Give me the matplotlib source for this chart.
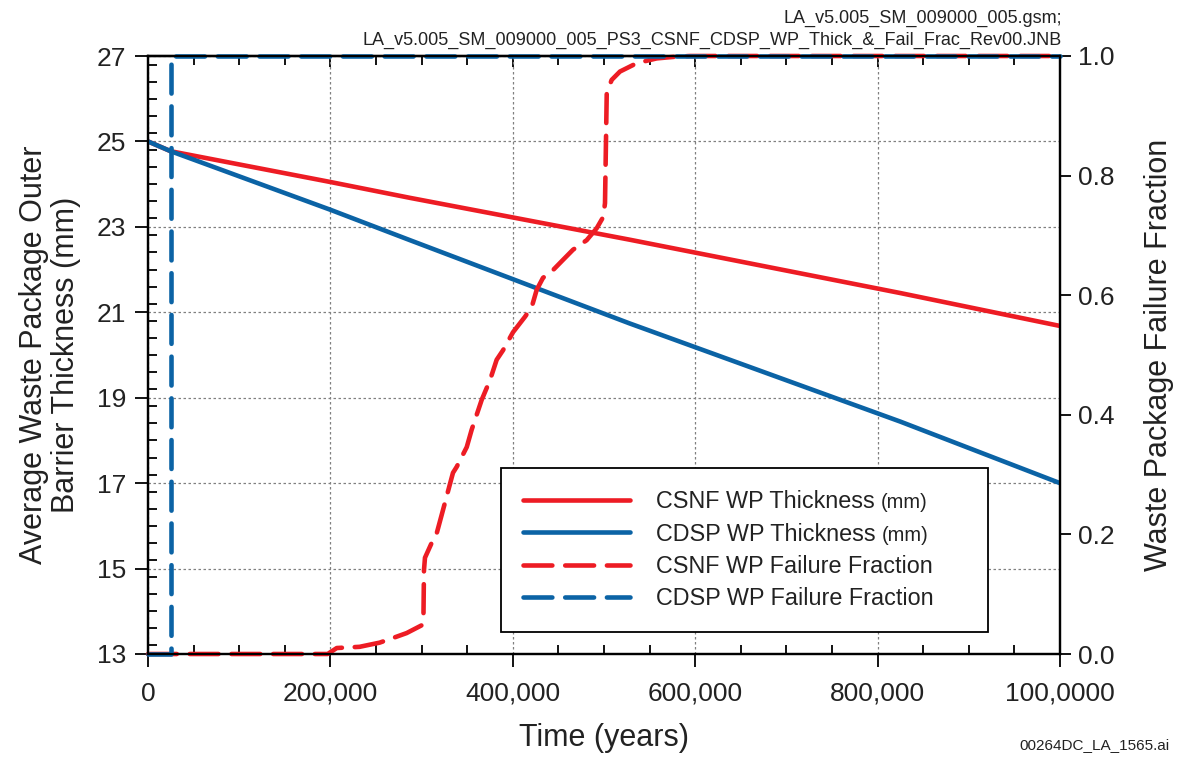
import matplotlib
matplotlib.use('Agg')
import matplotlib.pyplot as plt
from matplotlib.ticker import MultipleLocator, FixedLocator, FormatStrFormatter

plt.rcParams['font.family'] = ['Liberation Sans', 'DejaVu Sans']

# thickness curves (mm)
thick_years = [0, 25000, 200000, 287000, 528000, 825000, 1000000]
csnf_thick = [25.0, 24.77, 24.05, 23.68, 22.70, 21.45, 20.68]
cdsp_thick = [25.0, 24.77, 23.4, 22.69, 20.74, 18.44, 17.0]

# failure fractions
csnf_fail_years = [0, 197000, 207000, 232000, 254000, 269000, 283600, 300100, 302000,
                   302600, 303700, 311100, 316600, 323500, 334400, 338500, 349500,
                   354900, 365900, 375000, 382300, 389300, 400200, 413400, 420700,
                   426200, 433100, 444100, 455000, 466000, 481000, 492000, 499200,
                   501100, 503000, 508400, 517500, 535900, 557800, 579700, 594300,
                   1000000]
csnf_fail = [0, 0, 0.010, 0.012, 0.019, 0.027, 0.035, 0.048, 0.057,
             0.14, 0.161, 0.186, 0.202, 0.241, 0.303, 0.313, 0.346,
             0.375, 0.425, 0.458, 0.492, 0.508, 0.538, 0.564, 0.580,
             0.609, 0.629, 0.642, 0.659, 0.676, 0.692, 0.712, 0.731,
             0.754, 0.938, 0.960, 0.974, 0.988, 0.996, 0.999, 1.0,
             1.0]
cdsp_fail_years = [0, 25000, 25000, 1000000]
cdsp_fail = [0, 0, 1.0, 1.0]

x_ticks = [0, 200000, 400000, 600000, 800000, 1000000]
x_ticklabels = ['0', '200,000', '400,000', '600,000', '800,000', '100,0000']

red = '#ED1C24'
blue = '#0B63A5'
LW = 3.3
DASH = (6.3, 2.8)

fig = plt.figure(figsize=(11.79, 7.57), dpi=100)
ax1 = fig.add_axes([148 / 1179, 103 / 757, 912 / 1179, 598 / 757])
ax2 = ax1.twinx()

ax1.plot(thick_years, csnf_thick, color=red, lw=LW, solid_capstyle='round',
         label='CSNF WP Thickness', zorder=3)
ax1.plot(thick_years, cdsp_thick, color=blue, lw=LW, solid_capstyle='round',
         label='CDSP WP Thickness', zorder=3)

l3, = ax2.plot(csnf_fail_years, csnf_fail, color=red, lw=LW, dashes=DASH,
               dash_capstyle='round', label='CSNF WP Failure Fraction', clip_on=False)
l4, = ax2.plot(cdsp_fail_years, cdsp_fail, color=blue, lw=LW, dashes=DASH,
               dash_capstyle='round', label='CDSP WP Failure Fraction', clip_on=False)

ax1.set_xlim(0, 1000000)
ax1.set_ylim(13, 27)
ax2.set_ylim(0, 1)

ax1.set_xticks(x_ticks)
ax1.set_xticklabels(x_ticklabels)
ax1.xaxis.set_minor_locator(MultipleLocator(50000))
ax1.yaxis.set_major_locator(FixedLocator([13, 15, 17, 19, 21, 23, 25, 27]))
ax1.yaxis.set_minor_locator(MultipleLocator(0.4))
ax2.yaxis.set_major_locator(MultipleLocator(0.2))
ax2.yaxis.set_major_formatter(FormatStrFormatter('%.1f'))

ax1.grid(True, which='major', color='#808080', lw=0.9, ls=(0, (2, 2)))
ax1.set_axisbelow(True)

ax1.tick_params(axis='x', which='major', direction='out', length=9, width=1.3,
                labelsize=19, pad=11, top=False, colors='#222222')
ax1.tick_params(axis='x', which='minor', direction='in', length=6.5, width=1.3, top=False)
ax1.tick_params(axis='y', which='major', direction='out', length=9.5, width=1.3,
                labelsize=19, pad=6, right=False, colors='#222222')
ax1.tick_params(axis='y', which='minor', direction='in', length=6.5, width=1.3, right=False)
ax2.tick_params(axis='y', which='major', direction='out', length=8, width=1.3,
                labelsize=19, pad=5, colors='#222222')
for ax in (ax1, ax2):
    ax.tick_params(which='both', color='black')

top = ax1.secondary_xaxis('top')
top.set_xticks(x_ticks)
top.xaxis.set_minor_locator(MultipleLocator(50000))
top.tick_params(which='major', direction='in', length=8, width=1.3, labeltop=False)
top.tick_params(which='minor', direction='in', length=6.5, width=1.3)
top.spines['top'].set_linewidth(1.6)

for ax in (ax1, ax2):
    for s in ax.spines.values():
        s.set_linewidth(1.6)
        s.set_color('black')

ax1.set_xlabel('Time (years)', fontsize=22, color='#222222')
ax1.xaxis.set_label_coords(0.5, -0.115)
ax1.set_ylabel('Average Waste Package Outer\nBarrier Thickness (mm)', fontsize=22,
               linespacing=1.05, color='#222222')
ax1.yaxis.set_label_coords(-0.074, 0.5)
ax2.set_ylabel('Waste Package Failure Fraction', fontsize=22, color='#222222')
ax2.yaxis.set_label_coords(1.092, 0.5)

h1, lab1 = ax1.get_legend_handles_labels()
leg = ax2.legend(h1 + [l3, l4], lab1 + [l3.get_label(), l4.get_label()],
                 loc='lower left', bbox_to_anchor=(0.387, 0.037, 0.534, 0.28),
                 mode='expand', fontsize=16.8, frameon=True, fancybox=False,
                 edgecolor='black', framealpha=1, borderpad=0.93, labelspacing=0.4,
                 handlelength=4.6, handletextpad=1.1, borderaxespad=0)
leg.get_frame().set_linewidth(1.3)
for t in leg.get_texts():
    t.set_color('#222222')

# smaller "(mm)" after the two thickness entries
fig.canvas.draw()
for t in leg.get_texts()[:2]:
    bb = t.get_window_extent()
    base = t.get_transform().transform(t.get_position())[1]
    fig.text((bb.x1 + 6) / 1179, base / 757, '(mm)', ha='left', va='baseline',
             fontsize=14.5, color='#222222')

fig.text(1062 / 1179, 1 - 18 / 757, 'LA_v5.005_SM_009000_005.gsm;', ha='right',
         va='center', fontsize=13, color='#222222')
fig.text(1062 / 1179, 1 - 40 / 757,
         'LA_v5.005_SM_009000_005_PS3_CSNF_CDSP_WP_Thick_&_Fail_Frac_Rev00.JNB',
         ha='right', va='center', fontsize=13, color='#222222')
fig.text(1170 / 1179, 1 - 745 / 757, '00264DC_LA_1565.ai', ha='right', va='center',
         fontsize=11, color='#222222')

fig.savefig('out.png', dpi=100)
